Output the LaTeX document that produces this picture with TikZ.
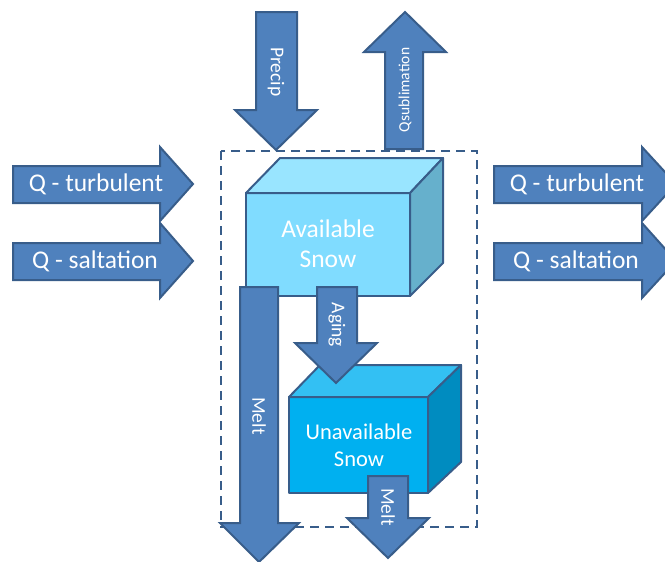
\documentclass[tikz,border=0pt]{standalone}
\usepackage{fontspec}
\setmainfont{Carlito}
\definecolor{arrowfill}{RGB}{79,129,189}
\definecolor{arrowline}{RGB}{56,93,138}
\definecolor{avfront}{RGB}{128,220,255}
\definecolor{avtop}{RGB}{153,229,255}
\definecolor{avside}{RGB}{102,176,204}
\definecolor{unfront}{RGB}{0,176,240}
\definecolor{untop}{RGB}{51,192,243}
\definecolor{unside}{RGB}{0,140,192}
\begin{document}
\begin{tikzpicture}[x=1pt,y=-1pt,
  blockarrow/.style={fill=arrowfill,draw=arrowline,line width=2pt,line join=miter},
  face/.style={draw=arrowline,line width=2pt,line join=round},
  hlabel/.style={text=white,font=\fontsize{25.5}{30}\selectfont,inner sep=0pt},
  vlabel/.style={text=white,font=\fontsize{19.5}{23}\selectfont,inner sep=0pt},
  boxlabel/.style={text=white,align=center,inner sep=0pt}]
\useasboundingbox (0,0) rectangle (665,562);
\clip (0,0) rectangle (665,562);

% system boundary
\draw[arrowline,line width=2.5pt,dash pattern=on 9pt off 6pt] (221,151) rectangle (477,527);

% Available snow cube
\fill[avfront] (246,193) rectangle (410,296);
\draw[face,fill=avtop] (246,193) -- (280,158) -- (443,158) -- (410,193) -- cycle;
\draw[face,fill=avside] (410,193) -- (443,158) -- (443,263) -- (410,296) -- cycle;
\draw[face] (246,193) rectangle (410,296);
\node[boxlabel,font=\fontsize{25.5}{30}\selectfont] (avail) at (328,244) {Available\\Snow};

% Unavailable snow cube
\fill[unfront] (289,397) rectangle (428,493);
\draw[face,fill=untop] (289,397) -- (320,365) -- (461,365) -- (428,397) -- cycle;
\draw[face,fill=unside] (428,397) -- (461,365) -- (461,462) -- (428,493) -- cycle;
\draw[face] (289,397) rectangle (428,493);
\node[boxlabel,font=\fontsize{22.5}{27}\selectfont] (unavail) at (359,445) {Unavailable\\Snow};

% Precip (down)
\draw[blockarrow] (256,12) -- (297,12) -- (297,110) -- (317,110) -- (276,150) -- (235,110) -- (256,110) -- cycle;
\node[vlabel,rotate=-90] (precip) at (276,72) {Precip};

% Q sublimation (up)
\draw[blockarrow] (385,149) -- (423,149) -- (423,52) -- (446,52) -- (405,12) -- (364,52) -- (385,52) -- cycle;
\node[vlabel,rotate=90,font=\fontsize{15.5}{18}\selectfont] (qsub) at (405,90) {Qsublimation};

% left arrows
\draw[blockarrow] (13,166) -- (160,166) -- (160,147) -- (193,184) -- (160,221) -- (160,203) -- (13,203) -- cycle;
\node[hlabel] (lturb) at (96,184) {Q - turbulent};
\draw[blockarrow] (13,243) -- (160,243) -- (160,223) -- (193,261) -- (160,298) -- (160,280) -- (13,280) -- cycle;
\node[hlabel] (lsalt) at (95,261) {Q - saltation};

% right arrows
\draw[blockarrow] (494,166) -- (642,166) -- (642,147) -- (676,184) -- (642,221) -- (642,203) -- (494,203) -- cycle;
\node[hlabel] (rturb) at (577,184) {Q - turbulent};
\draw[blockarrow] (494,243) -- (642,243) -- (642,223) -- (676,261) -- (642,298) -- (642,280) -- (494,280) -- cycle;
\node[hlabel] (rsalt) at (576,261) {Q - saltation};

% Melt (left, long)
\draw[blockarrow] (240,287) -- (278,287) -- (278,523) -- (299,523) -- (259,562) -- (220,523) -- (240,523) -- cycle;
\node[vlabel,rotate=-90] (melt1) at (259,416) {Melt};

% Aging
\draw[blockarrow] (317,287) -- (357,287) -- (357,343) -- (377,343) -- (336,383) -- (295,343) -- (317,343) -- cycle;
\node[vlabel,rotate=-90] (aging) at (337,325) {Aging};

% Melt (small)
\draw[blockarrow] (368,476) -- (408,476) -- (408,518) -- (429,518) -- (388,558) -- (347,518) -- (368,518) -- cycle;
\node[vlabel,rotate=-90] (melt2) at (388,507) {Melt};
\end{tikzpicture}
\end{document}
